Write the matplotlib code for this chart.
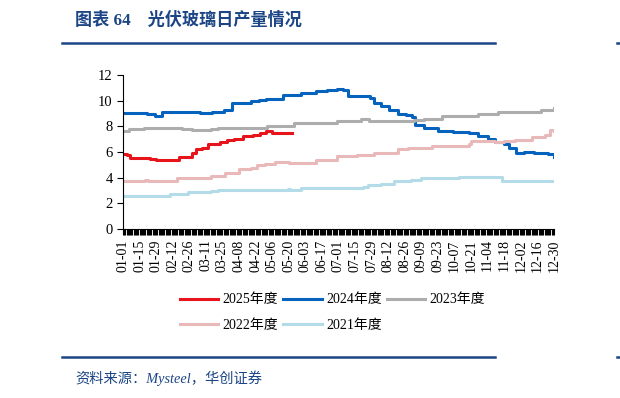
import pandas as pd
import matplotlib
matplotlib.use('Agg')
import matplotlib.pyplot as plt
from matplotlib.lines import Line2D

plt.rcParams['font.family'] = ['Liberation Serif', 'Noto Sans CJK SC']

# 数据（日期 MM-DD，日产量 万吨）
d2025 = ['01-01', '01-04', '01-07', '01-24', '01-29', '02-17', '02-28', '03-03', '03-08', '03-13',
         '03-23', '03-29', '04-04', '04-11', '04-20', '04-26', '05-01', '05-06', '05-23']
v2025 = [5.85, 5.75, 5.5, 5.45, 5.35, 5.6, 5.95, 6.2, 6.3, 6.65,
         6.75, 6.9, 7.0, 7.25, 7.35, 7.45, 7.6, 7.5, 7.5]

d2024 = ['01-01', '01-21', '01-28', '02-03', '03-06', '03-16', '03-26', '04-02', '04-18', '04-25',
         '05-01', '05-15', '05-30', '06-12', '06-21', '06-30', '07-05', '07-09', '07-25', '07-28',
         '07-31', '08-06', '08-13', '08-20', '08-27', '09-01', '09-04', '09-11', '09-23', '10-06',
         '10-19', '10-27', '11-04', '11-10', '11-18', '11-22', '11-28', '12-05', '12-13', '12-25', '12-30']
v2024 = [9.05, 9.0, 8.8, 9.1, 9.05, 9.15, 9.3, 9.85, 9.95, 10.05,
         10.15, 10.45, 10.6, 10.75, 10.8, 10.9, 10.8, 10.4, 10.4, 10.2,
         9.85, 9.6, 9.25, 8.95, 8.85, 8.7, 8.1, 7.9, 7.6, 7.55,
         7.45, 7.25, 7.0, 6.75, 6.65, 6.3, 5.9, 6.0, 5.9, 5.85, 5.6]

d2023 = ['01-01', '01-06', '01-19', '01-29', '02-20', '02-28', '03-15', '03-21', '04-08', '04-12',
         '05-02', '05-24', '06-30', '07-20', '07-27', '09-03', '09-11', '09-26', '10-27', '11-13',
         '12-13', '12-19', '12-30']
v2023 = [7.6, 7.8, 7.85, 7.9, 7.8, 7.75, 7.8, 7.9, 7.85, 7.9,
         8.0, 8.25, 8.45, 8.55, 8.45, 8.5, 8.6, 8.8, 8.95, 9.1,
         9.15, 9.25, 9.4]

d2022 = ['01-01', '01-20', '01-22', '02-16', '03-15', '03-27', '04-08', '04-18', '04-23', '04-30',
         '05-08', '05-20', '06-12', '06-30', '07-17', '07-31', '08-20', '08-29', '09-15', '09-18',
         '10-19', '10-21', '11-10', '11-18', '11-27', '12-11', '12-22', '12-27', '12-30']
v2022 = [3.75, 3.85, 3.75, 4.0, 4.1, 4.4, 4.65, 4.75, 4.95, 5.1,
         5.2, 5.15, 5.4, 5.65, 5.75, 5.9, 6.2, 6.35, 6.3, 6.45,
         6.65, 6.85, 6.8, 6.85, 6.95, 7.2, 7.3, 7.7, 7.6]

d2021 = ['01-01', '01-30', '02-10', '02-16', '02-25', '03-15', '03-21', '05-19', '05-21', '05-30',
         '07-22', '07-26', '08-06', '08-17', '08-31', '09-09', '10-11', '11-16', '12-30']
v2021 = [2.55, 2.6, 2.7, 2.75, 2.85, 2.95, 3.05, 3.15, 3.05, 3.2,
         3.3, 3.4, 3.5, 3.75, 3.85, 3.95, 4.05, 3.75, 3.75]

series = [
    ('2025年度', d2025, v2025, '#E8141C'),
    ('2024年度', d2024, v2024, '#0563BE'),
    ('2023年度', d2023, v2023, '#ADADAD'),
    ('2022年度', d2022, v2022, '#E9B8B8'),
    ('2021年度', d2021, v2021, '#B3DCE8'),
]

base = pd.Timestamp('2024-01-01')


def to_day(dates):
    return [(pd.Timestamp('2024-' + d) - base).days for d in dates]


navy = '#1B4585'
fig = plt.figure(figsize=(6.2, 3.98), dpi=100)

# 标题与分隔线
fig.text(75 / 620, 1 - 20 / 398, '图表 64    光伏玻璃日产量情况', fontsize=12.3,
         fontweight='bold', color=navy, va='center', ha='left')
fig.add_artist(Line2D([62 / 620, 495 / 620], [1 - 43 / 398] * 2, color=navy, lw=1.8))
fig.add_artist(Line2D([62 / 620, 495 / 620], [1 - 357 / 398] * 2, color=navy, lw=1.8))
fig.add_artist(Line2D([617 / 620, 1], [1 - 43 / 398] * 2, color=navy, lw=1.8))
fig.add_artist(Line2D([617 / 620, 1], [1 - 357 / 398] * 2, color=navy, lw=1.8))
fig.text(75 / 620, 1 - 378 / 398, '资料来源：Mysteel，华创证券', fontsize=10.3,
         style='italic', color=navy, va='center', ha='left')

ax = fig.add_axes([123 / 620, 1 - 229 / 398, 431 / 620, 154 / 398])
for name, d, v, c in series:
    ax.plot(to_day(d), v, drawstyle='steps-post', color=c, lw=2.2, label=name)

ax.set_xlim(0, 364)
ax.set_ylim(0, 12)
ax.set_yticks(range(0, 13, 2))
ticks = list(range(0, 365, 14))
ax.set_xticks(ticks)
ax.set_xticklabels([(base + pd.Timedelta(days=t)).strftime('%m-%d') for t in ticks],
                   rotation=90, fontsize=10)
ax.set_xticks(range(0, 365), minor=True)
ax.tick_params(axis='x', which='both', direction='out', length=4, width=0.8)
ax.tick_params(axis='y', direction='out', length=4, labelsize=10.5)
ax.spines['top'].set_visible(False)
ax.spines['right'].set_visible(False)

# 图例按行排列：matplotlib 按列填充，所以调整顺序
handles, labels = ax.get_legend_handles_labels()
order = [0, 3, 1, 4, 2]
fig.legend([handles[i] for i in order], [labels[i] for i in order], ncol=3, loc='upper left',
           bbox_to_anchor=(167 / 620, 1 - 281 / 398),
           frameon=False, fontsize=10, handlelength=2.8, handletextpad=0.3,
           columnspacing=0.35, labelspacing=0.9)

plt.savefig('out.png', dpi=100)
